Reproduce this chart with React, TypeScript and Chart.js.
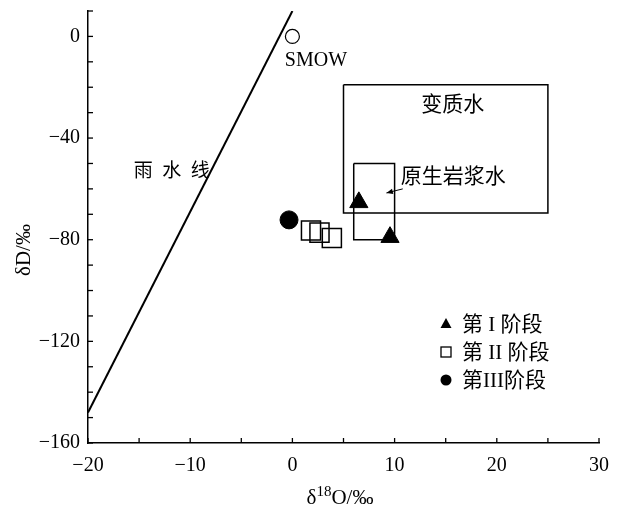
import React, { useEffect, useRef } from "react";
import { Chart, registerables } from "chart.js";

Chart.register(...registerables);

// ---- data ----
const meteoricX = [-20, 0];
const meteoricY = [-148, 10];
const smowX = [0];
const smowY = [0];
const metaBoxX = [5, 25, 25, 5, 5];
const metaBoxY = [-19, -19, -69.5, -69.5, -19];
const magBoxX = [6, 10, 10, 6, 6];
const magBoxY = [-50, -50, -80, -80, -50];
const stage1X = [6.5, 9.55];
const stage1Y = [-65.3, -79];
const stage2X = [1.82, 2.65, 3.86];
const stage2Y = [-76.4, -77.2, -79.3];
const stage3X = [-0.33];
const stage3Y = [-72.2];
const legendLabels = ["第 I 阶段", "第 II 阶段", "第III阶段"];
const xTitleParts = ["δ", "18", "O/‰"];
const yTitle = "δD/‰";

const OFF = 4; // canvas is shifted up by this many pixels
const pts = (xs: number[], ys: number[]) => xs.map((x, i) => ({ x, y: ys[i] }));
const fmt = (v: number) => String(v).replace("-", "−");
const SERIF = '"Liberation Serif", "Noto Sans CJK SC", serif';

const annotate = {
  id: "annotate",
  afterDraw(chart: any) {
    const { ctx, chartArea } = chart;
    const xs = chart.scales.x;
    const ys = chart.scales.y;
    ctx.save();
    // inward ticks
    ctx.strokeStyle = "#000";
    ctx.lineWidth = 1.3;
    xs.ticks.forEach((t: any) => {
      const px = xs.getPixelForValue(t.value);
      ctx.beginPath();
      ctx.moveTo(px, chartArea.bottom);
      ctx.lineTo(px, chartArea.bottom - 5);
      ctx.stroke();
    });
    ys.ticks.forEach((t: any) => {
      const py = ys.getPixelForValue(t.value);
      ctx.beginPath();
      ctx.moveTo(chartArea.left, py);
      ctx.lineTo(chartArea.left + 5, py);
      ctx.stroke();
    });

    ctx.fillStyle = "#000";
    ctx.textBaseline = "middle";
    const text = (s: string, x: number, y: number, align: CanvasTextAlign, size: number) => {
      ctx.font = `${size}px ${SERIF}`;
      ctx.textAlign = align;
      ctx.fillText(s, xs.getPixelForValue(x), ys.getPixelForValue(y));
    };
    text("SMOW", 2.3, -9.4, "center", 20);
    text("变质水", 15.7, -27, "center", 21);
    text("原生岩浆水", 10.6, -55.6, "left", 21);
    text("雨  水  线", -11.8, -53.5, "center", 19);

    // arrow
    const ax0 = xs.getPixelForValue(10.8), ay0 = ys.getPixelForValue(-60);
    const ax1 = xs.getPixelForValue(9.2), ay1 = ys.getPixelForValue(-61.6);
    ctx.lineWidth = 1;
    ctx.beginPath();
    ctx.moveTo(ax0, ay0);
    ctx.lineTo(ax1, ay1);
    ctx.stroke();
    const ang = Math.atan2(ay1 - ay0, ax1 - ax0);
    ctx.beginPath();
    ctx.moveTo(ax1, ay1);
    ctx.lineTo(ax1 - 7 * Math.cos(ang - 0.4), ay1 - 7 * Math.sin(ang - 0.4));
    ctx.lineTo(ax1 - 7 * Math.cos(ang + 0.4), ay1 - 7 * Math.sin(ang + 0.4));
    ctx.closePath();
    ctx.fill();

    // legend
    const lx = 446;
    const ly = [324 + OFF, 352 + OFF, 380 + OFF];
    ctx.lineWidth = 1.3;
    ctx.beginPath();
    ctx.moveTo(lx, ly[0] - 6);
    ctx.lineTo(lx + 5.5, ly[0] + 4);
    ctx.lineTo(lx - 5.5, ly[0] + 4);
    ctx.closePath();
    ctx.fill();
    ctx.strokeRect(lx - 5, ly[1] - 5, 10, 10);
    ctx.beginPath();
    ctx.arc(lx, ly[2], 5.5, 0, Math.PI * 2);
    ctx.fill();
    ctx.font = `21px ${SERIF}`;
    ctx.textAlign = "left";
    legendLabels.forEach((l, i) => ctx.fillText(l, 462, ly[i] + 1));

    // axis titles
    ctx.font = `21px ${SERIF}`;
    ctx.save();
    ctx.translate(24, 250 + OFF);
    ctx.rotate(-Math.PI / 2);
    ctx.textAlign = "center";
    ctx.fillText(yTitle, 0, 0);
    ctx.restore();

    ctx.textAlign = "left";
    ctx.textBaseline = "alphabetic";
    const big = `21px ${SERIF}`;
    const small = `15px ${SERIF}`;
    ctx.font = big;
    const w0 = ctx.measureText(xTitleParts[0]).width;
    const w2 = ctx.measureText(xTitleParts[2]).width;
    ctx.font = small;
    const w1 = ctx.measureText(xTitleParts[1]).width;
    const total = w0 + w1 + w2;
    let x = 340 - total / 2;
    const base = 504 + OFF;
    ctx.font = big;
    ctx.fillText(xTitleParts[0], x, base);
    x += w0;
    ctx.font = small;
    ctx.fillText(xTitleParts[1], x, base - 8);
    x += w1;
    ctx.font = big;
    ctx.fillText(xTitleParts[2], x, base);
    ctx.restore();
  },
};

export default function App() {
  const ref = useRef<HTMLCanvasElement>(null);
  useEffect(() => {
    if (!ref.current) return;
    const lineDs = (data: any[], w: number) => ({
      data,
      showLine: true,
      borderColor: "#000",
      borderWidth: w,
      pointRadius: 0,
      fill: false,
      tension: 0,
    });
    const chart = new Chart(ref.current, {
      type: "scatter",
      data: {
        datasets: [
          {
            data: pts(stage1X, stage1Y),
            pointStyle: "triangle",
            pointRadius: 10.5,
            backgroundColor: "#000",
            borderColor: "#000",
            borderWidth: 1,
          },
          {
            data: pts(stage2X, stage2Y),
            pointStyle: "rect",
            pointRadius: 13.5,
            backgroundColor: "rgba(0,0,0,0)",
            borderColor: "#000",
            borderWidth: 1.5,
          },
          {
            data: pts(stage3X, stage3Y),
            pointStyle: "circle",
            pointRadius: 9,
            backgroundColor: "#000",
            borderColor: "#000",
            borderWidth: 1,
          },
          {
            data: pts(smowX, smowY),
            pointStyle: "circle",
            pointRadius: 7,
            backgroundColor: "#fff",
            borderColor: "#000",
            borderWidth: 1.2,
          },
          lineDs(pts(metaBoxX, metaBoxY), 1.5),
          lineDs(pts(magBoxX, magBoxY), 1.5),
          lineDs(pts(meteoricX, meteoricY), 2),
        ] as any,
      },
      options: {
        animation: false,
        responsive: false,
        layout: { padding: { top: 11, right: 26, left: 0, bottom: 0 } },
        plugins: { legend: { display: false }, tooltip: { enabled: false } },
        scales: {
          x: {
            type: "linear",
            min: -20,
            max: 30,
            afterFit: (s: any) => {
              s.height = 66;
              s.paddingLeft = 0;
              s.paddingRight = 0;
            },
            ticks: {
              stepSize: 5,
              autoSkip: false,
              maxRotation: 0,
              padding: 11,
              color: "#000",
              font: { family: SERIF, size: 20 },
              callback: (v: any) => (Number(v) % 10 === 0 ? fmt(Number(v)) : ""),
            },
            grid: { display: true, drawOnChartArea: false, drawTicks: false },
            border: { display: true, color: "#000", width: 1.5 },
          },
          y: {
            type: "linear",
            min: -160,
            max: 10,
            afterFit: (s: any) => {
              s.width = 88;
              s.paddingTop = 0;
              s.paddingBottom = 0;
            },
            ticks: {
              stepSize: 10,
              autoSkip: false,
              padding: 8,
              color: "#000",
              font: (c: any) => ({
                family: SERIF,
                size: c.tick && Number(c.tick.value) % 40 !== 0 ? 1 : 20,
              }),
              callback: (v: any) => (Number(v) % 40 === 0 ? fmt(Number(v)) : ""),
            },
            grid: { display: true, drawOnChartArea: false, drawTicks: false },
            border: { display: true, color: "#000", width: 1.5 },
          },
        },
      },
      plugins: [annotate],
    });
    return () => chart.destroy();
  }, []);
  return (
    <div style={{ position: "absolute", left: 0, top: 0, width: 625, height: 509, overflow: "hidden", background: "#fff" }}>
      <canvas ref={ref} width={625} height={509 + OFF} style={{ position: "absolute", left: 0, top: -OFF }} />
    </div>
  );
}
